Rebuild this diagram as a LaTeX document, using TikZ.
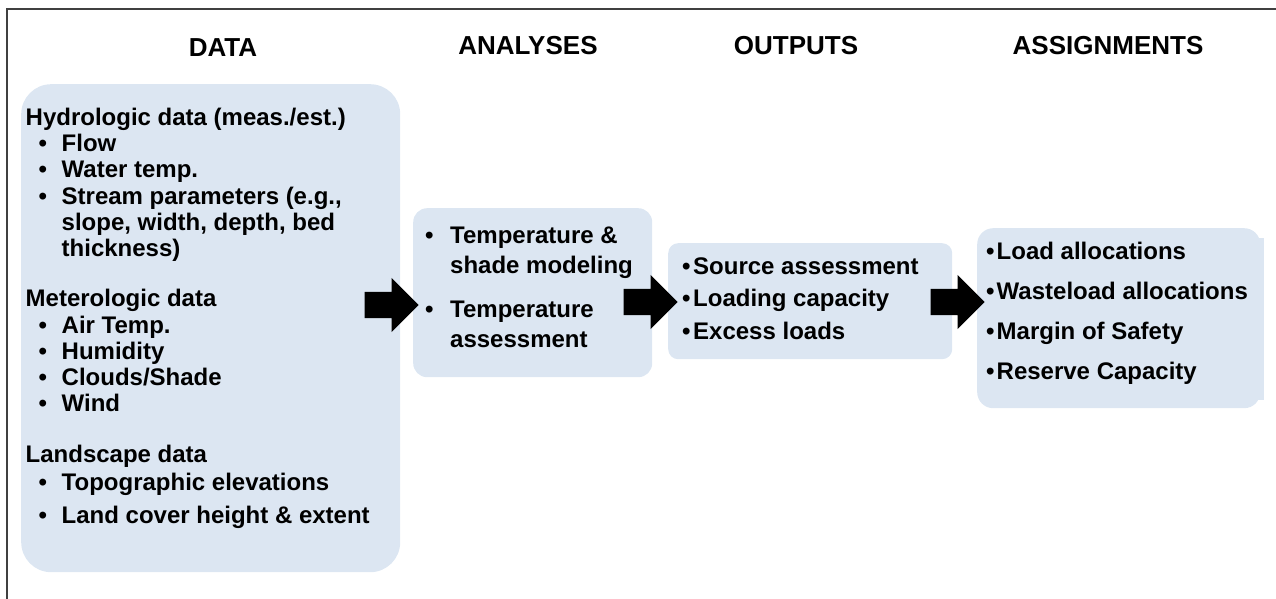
\documentclass[tikz,border=0pt]{standalone}
\usepackage{fontspec}
\setmainfont{Liberation Sans}
\definecolor{boxblue}{RGB}{220, 230, 242}
\definecolor{framegray}{RGB}{64, 64, 64}
\usetikzlibrary{shapes.arrows}

% bullet with a fixed gap before the text
\newcommand{\bul}[1]{\makebox[#1][l]{\textbullet}}
\newcommand{\ditem}{\hspace*{13pt}\bul{23pt}}

\begin{document}
\begin{tikzpicture}[x=1pt, y=-1pt,
    every node/.style={font=\bfseries\fontsize{24}{26.3}\selectfont, inner sep=0pt},
    head/.style={font=\bfseries\fontsize{26}{30}\selectfont, anchor=base},
    panel/.style={fill=boxblue, anchor=north west},
    items/.style={anchor=base west, align=left},
    blockarrow/.style={single arrow, fill=black, minimum height=54pt,
        single arrow head extend=14pt, inner xsep=0pt, inner ysep=13pt, anchor=tip}]
    \useasboundingbox (0,0) rectangle (1276,599);
    % outer frame (runs off the page at right and bottom)
    \draw[framegray, line width=1.5pt] (7,599) -- (7,9) -- (1276,9);

    % column heads
    \node[head] (hdata)   at (223,57)  {DATA};
    \node[head] (hanal)   at (528,55)  {ANALYSES};
    \node[head] (hout)    at (796,55)  {OUTPUTS};
    \node[head] (hassign) at (1108,55) {ASSIGNMENTS};

    % panels
    \node[panel, rounded corners=30pt, minimum width=379pt, minimum height=488pt] (data) at (21,84) {};
    \node[panel, rounded corners=14pt, minimum width=239pt, minimum height=169pt] (anal) at (413,208) {};
    \node[panel, rounded corners=10pt, minimum width=284pt, minimum height=116pt] (out) at (668,243) {};
    \node[panel, rounded corners=16pt, minimum width=283pt, minimum height=180pt] (assign) at (977,228) {};
    \fill[boxblue] (1250,238) rectangle (1264,400);

    % panel texts, placed at the baseline of their last line
    \node[items] (datatxt) at (25.5,523) {Hydrologic data (meas./est.)\\
        \ditem Flow\\
        \ditem Water temp.\\
        \ditem Stream parameters (e.g.,\\
        \hspace*{36pt}slope, width, depth, bed\\
        \hspace*{36pt}thickness)\\[23.8pt]
        Meterologic data\\
        \ditem Air Temp.\\
        \ditem Humidity\\
        \ditem Clouds/Shade\\
        \ditem Wind\\[23.8pt]
        Landscape data\\[1.7pt]
        \ditem Topographic elevations\\[6.7pt]
        \ditem Land cover height \& extent};
    \node[items, font=\bfseries\fontsize{24}{30}\selectfont] (analtxt) at (425,347) {\bul{25pt}Temperature \&\\
        \hspace*{25pt}shade modeling\\[14pt]
        \bul{25pt}Temperature\\
        \hspace*{25pt}assessment};
    \node[items, font=\bfseries\fontsize{24}{32.5}\selectfont] (outtxt) at (682,339) {\bul{11pt}Source assessment\\
        \bul{11pt}Loading capacity\\
        \bul{11pt}Excess loads};
    \node[items, font=\bfseries\fontsize{24}{39.7}\selectfont] (assigntxt) at (986,379) {\bul{10.5pt}Load allocations\\
        \bul{10.5pt}Wasteload allocations\\
        \bul{10.5pt}Margin of Safety\\
        \bul{10.5pt}Reserve Capacity};

    % block arrows between the panels
    \node[blockarrow] (a1) at (419,305) {};
    \node[blockarrow] (a2) at (678,302) {};
    \node[blockarrow] (a3) at (985,302) {};
\end{tikzpicture}
\end{document}
